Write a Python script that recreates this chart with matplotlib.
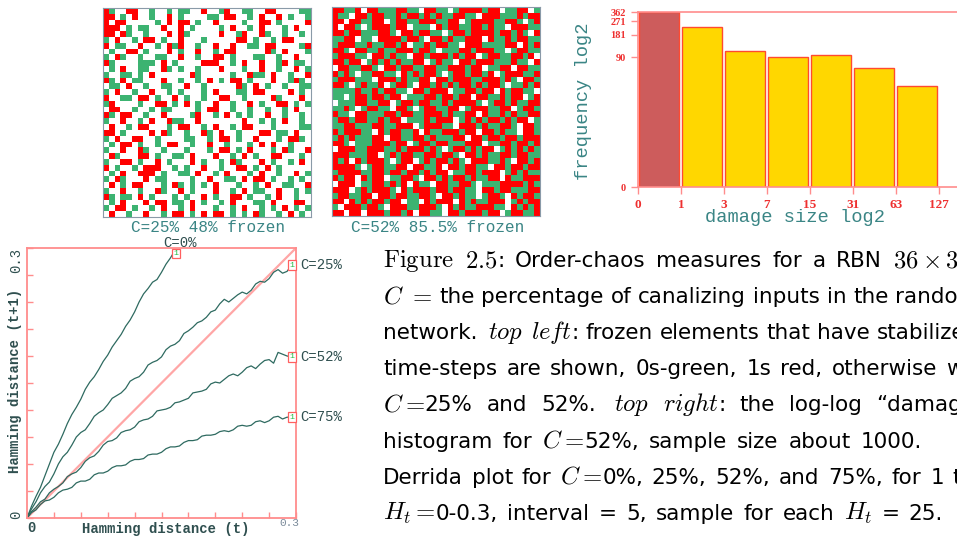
import re
import numpy as np
import matplotlib
matplotlib.use("Agg")
import matplotlib.pyplot as plt
from matplotlib.colors import ListedColormap
from matplotlib.ticker import NullLocator

W, H = 957, 538

# frozen-element maps, 36x36: g = frozen 0 (green), r = frozen 1 (red), . = not frozen
grid_c25 = [
    "rg..rr..g..g.gg..r..gr..gg..rr....gg",
    "rr.g.r..g..r.g....gg.rr..g.r..r.g..g",
    "r.rr.....g.r.rr.g..r....g..rr.g....r",
    "rrr.g.gg..r..r.g....g.r..g.r...g.r..",
    "rr.rg..g...r.rg.....r..gr..rg..g..g.",
    "g.r..g.rr.g..r...g.....rr.g..g.rr...",
    "r.gg..r..g.rgr..g..r..r..gg.rr....gr",
    ".g..rr.g...r.g..r..g.rr.....rg.r...g",
    "g.rg..g..gg..r..g..rr.g...gg..g..r..",
    "rg....ggg.r.g....rrr..g.r..r..gr.gg.",
    ".g.r..gg..rg.g..g...r...g..r..g..r.g",
    "g..gg.g.r......rg.....g..rgg.r..g..r",
    "rg.r.gg...r..g..g.r.g.rr.g...r..grg.",
    ".gg.r..g..gg..r..g.....rg.r.g..g..gg",
    "g.r..g..r..g.g...g.r...gg.rr....r.g.",
    "r..gg.rr.g..r.g..g..rr..g....rg...r.",
    "gr....g..rr.g.r.g..r..g..r.g..rr.g.g",
    ".rr..g..g.gg....g.rr..g..g..g..g.r..",
    "rg.rr..g..r....gr..g.r.g.g..r..g..g.",
    "g..r..g.r..rgg..r.......r..g.g.r..g.",
    ".r..g.rr...g.rr..g.r..g.rr...g....gg",
    "rr.g....r.rg..g..rg.r..g...rr.gg.r..",
    "g.r..rr..g....gg..g.rr.g..r...g.rrg.",
    ".g.rr.g..g.rr..g..r..g...g.r.r..g...",
    "g..r..rg..g...g...g.rr.g.r...g.rg..r",
    ".rg...rr.g..gg.r...r..g.r.g..rr...g.",
    "g..rr.g..r.g...r.g..g.rg...r.g..g.r.",
    "r.g..g.rrr..g.g..r..g..rr.g.r.g.....",
    ".g.r..rrr.g..gg.r..g.r...g.r..g..r.g",
    "g.rg...r.gg....g..r..gg.r.rr.g..g.g.",
    ".r.g.rr...g.rg.g.g.r...g..g.r..gg..r",
    "g..r..g..rg..r.g...r..g.r.gg..r..g.g",
    "rg.gg.r.g...g.g..r.g..rr.g..g.r..g..",
    ".g.r...r.rr.gg.r.g..g.r...gg.r...rr.",
    "g.rr.g..g.r..g.r...g..g.r..g.g.r.g.g",
    ".r..g..r..g.rr.g.r.rr.g.g.rg..g.r.g.",
]

grid_c52 = [
    "rrggr.rrgggrrgg.rrgg.grrrrgrr.ggrr.g",
    "rgg.rrgrrggrgrrgrgrggrrgg.rrrgggrgrr",
    "rr.rrggrr.grrggrrrggrr.grrrrggrrg.gr",
    "r.rrg.grrrgrr.ggg.rgrrggrrgrgg.rrrgg",
    "rrgrrgggrrg.rrgrrgg.grrgrrrrgrrgrg.r",
    "ggrr.gg.rrrrgrrg.rrgrggrrr.rggrgrrgg",
    "grrrggrggrrgr.ggrgrrgg.rrrggggrr.rgr",
    "rrg.rrggrggrrrgrrg.gggrrgrrrgg.grrgg",
    "grrrgg.rrgrgg.rrgrrrgrgrr.grrggrrgr.",
    "rrgrr.grgrgrggrr.grgg.rrgrrrgggrgg.r",
    ".rrggrrg.rrgrrggrrggrrrgrr.ggrr.rrgg",
    "rgrg.ggrrgg.rgrgrrg.grrgrrgr.grrrggr",
    "grrrggg.rrrgrggrr.rrgrrrggrrrgrg.rrg",
    "rrg.grggr.grrg.rrgrgrgrrgrgrrg.ggrgr",
    "ggggrggrgrrgg.rrgrrr.ggrrgrr.rgrrgg.",
    "gg.grrgrrgrr.gggrrgrrgrr.rrggrgrr.gr",
    ".gggrrggrr.grrgrrggrgrrrrg.grrgrggrr",
    "ggrg.grrgg.rrg.grrggrr.grrrggrr.grrg",
    "rgg.rrgggrrgrrggrrrgrggrr.rggrgrggrr",
    "grrgrrggrgrr.gggrgrrr.grgrgrrgrgrr.g",
    "ggrrgggrrggrrr.grrrgg.rrrgrggrrg.rrg",
    "rgrrrgg.rgrrggr.rggrrrgrr.rrgrgg.rrg",
    "grgrgggrr.rrggrrgrgggrr.rrgrrgrrgrrr",
    "rrg.gggrrrgrr.grrgrrgggrrr.ggrrgrrgr",
    ".rrrggrrrggrgrrrgrg.grrgrgrr.grgrgrg",
    "rrrgggrr.grgrrggrrgrrg.rrgrggrrgrrgg",
    "rgr.rgrrrg.grr.grgrrgrg.rrrggrg.rrgr",
    "rrrrg.grrggrr.rrggr.rrgrrgg.rrgrrgrr",
    "grrrrggrrgrrgrrgrgrr.ggrrgrrr.grgrgg",
    "rgrr.rgrr.ggrrg.rrgrgrrgrggrr.rggrrr",
    ".rrr.ggrrgrgr.rgg.rrggrrg.gggrrrrgrg",
    "rrr.grgrrrg.rgrrrgrrgrrgg.rrgrrgggrr",
    "grrggrr.rrgrrggrrg.rrgrgg.grrg.rgrrg",
    "rr.rgrgrrgrr.gg.rgrrr.rgrggrrr.grgrr",
    "g.rrrgrrg.rrrggrrrg.rgrggrrrgg.rgrgr",
    "rr.rr.rrrgrrgr.rrgg.rrgrrrgrr.grrggr",
]

# damage size histogram (log2 bins), C=52%
bin_labels = ["0", "1", "3", "7", "15", "31", "63", "127"]
bin_freq = [362, 228, 108, 90, 96, 64, 37]
freq_ticks = [90, 181, 271, 362]

# Derrida plot: H(t) -> H(t+1)
ht_c0 = [0, .005, .01, .015, .02, .025, .03, .035, .04, .045, .05, .055, .06, .065, .07, .075, .08,
         .085, .09, .095, .10, .105, .11, .115, .12, .125, .13, .135, .14, .145, .15, .155, .16, .163]
h1_c0 = [0, .013, .024, .034, .047, .060, .073, .082, .093, .105, .115, .123, .132, .143, .151, .157, .165,
         .174, .181, .190, .197, .204, .213, .220, .229, .240, .249, .255, .262, .265, .273, .282, .289, .294]

ht = [0, .005, .01, .015, .02, .025, .03, .035, .04, .045, .05, .055, .06, .065, .07, .075,
      .08, .085, .09, .095, .10, .105, .11, .115, .12, .125, .13, .135, .14, .145, .15, .155,
      .16, .165, .17, .175, .18, .185, .19, .195, .20, .205, .21, .215, .22, .225, .23, .235,
      .24, .245, .25, .255, .26, .265, .27, .275, .28, .285, .29, .295]
h1_c25 = [0, .010, .018, .028, .035, .040, .049, .060, .068, .073, .081, .090, .095, .098, .105, .113,
          .117, .120, .126, .133, .136, .139, .144, .152, .155, .157, .162, .170, .173, .175, .179, .187,
          .191, .193, .197, .205, .208, .212, .217, .219, .223, .229, .231, .238, .243, .240, .244, .248,
          .251, .249, .253, .260, .263, .262, .266, .273, .276, .272, .274, .281]
h1_c52 = [0, .007, .012, .018, .021, .028, .032, .035, .039, .046, .049, .051, .056, .063, .067, .069,
          .074, .081, .085, .086, .089, .095, .097, .098, .101, .107, .109, .110, .113, .119, .120, .121,
          .123, .128, .129, .131, .133, .139, .140, .141, .143, .149, .151, .150, .154, .158, .160, .158,
          .162, .167, .169, .166, .171, .175, .176, .172, .184, .182, .180, .179]
h1_c75 = [0, .006, .009, .015, .019, .020, .023, .028, .031, .032, .034, .039, .041, .041, .043, .048,
          .050, .050, .052, .056, .058, .058, .059, .063, .065, .065, .066, .070, .071, .071, .073, .077,
          .079, .079, .080, .084, .086, .086, .087, .091, .092, .092, .093, .096, .097, .096, .098, .102,
          .103, .102, .103, .107, .108, .106, .108, .112, .113, .110, .112, .112]

# caption lines: words, and (word index, pixel x of its right end) where the line is stretched
caption = [
    (["$\\mathrm{Figure}$", "$\\mathrm{2.5}$:", "Order-chaos", "measures", "for", "a", "RBN",
      "$36\\times36$"], (6, 882)),
    (["$C\\ =$", "the", "percentage", "of", "canalizing", "inputs", "in", "the", "random"], None),
    (["network.", "$\\mathit{top}$", "$\\mathit{left}$:", "frozen", "elements", "that", "have",
      "stabilized"], None),
    (["time-steps", "are", "shown,", "0s-green,", "1s", "red,", "otherwise", "white,"], (6, 937)),
    (["$C{=}$25%", "and", "52%.", "$\\mathit{top}$", "$\\mathit{right}$:", "the", "log-log",
      "\u201cdamage"], (6, 862)),
    (["histogram", "for", "$C{=}$52%,", "sample", "size", "about", "1000."], (6, 922)),
    (["Derrida", "plot", "for", "$C{=}$0%,", "25%,", "52%,", "and", "75%,", "for", "1",
      "time-step,"], (9, 944)),
    (["$H_t{=}$0-0.3,", "interval", "=", "5,", "sample", "for", "each", "$H_t$", "=", "25."], (9, 943)),
]

plt.rcParams["mathtext.fontset"] = "cm"

fig = plt.figure(figsize=(W / 100, H / 100), dpi=100)


def px_axes(x0, y0, x1, y1):
    return fig.add_axes([x0 / W, 1 - y1 / H, (x1 - x0) / W, (y1 - y0) / H])


def px_text(x, y, s, **kw):
    return fig.text(x / W, 1 - y / H, s, **kw)


mono = "Liberation Mono"
teal = "#3a8585"
dark = "#2f4f4f"
pink = "#ff8c8c"

# ---- frozen maps
cell_cmap = ListedColormap(["white", "#3cb371", "#ff0000"])
code = {".": 0, "g": 1, "r": 2}
for rows, box, label, lx in [
    (grid_c25, (103, 8, 311, 217), "C=25% 48% frozen", 208),
    (grid_c52, (332, 7, 540, 216), "C=52% 85.5% frozen", 438),
]:
    arr = np.array([[code.get(c, 0) for c in r.ljust(36, ".")[:36]] for r in rows])
    ax = px_axes(*box)
    ax.imshow(arr, cmap=cell_cmap, vmin=0, vmax=2, interpolation="nearest", aspect="auto")
    ax.set_xticks([])
    ax.set_yticks([])
    for s in ax.spines.values():
        s.set_color("#8a9aa8")
        s.set_linewidth(0.8)
    px_text(lx, 227, label, family=mono, fontsize=11.5, color=teal, ha="center", va="center")

# ---- damage histogram
axh = px_axes(638, 12, 1003, 187)
axh.set_yscale("log", base=2)
cols = ["#cd5c5c"] + ["#ffd700"] * (len(bin_freq) - 1)
axh.bar(np.arange(len(bin_freq)) + 0.02, bin_freq, width=0.94, align="edge",
        color=cols, edgecolor="#ff4a30", linewidth=1.0)
axh.set_xlim(0, 8.5)
axh.set_ylim(1.66, 362)
axh.set_xticks(np.arange(len(bin_labels)))
axh.set_xticklabels(bin_labels)
axh.set_yticks([1.66] + freq_ticks)
axh.set_yticklabels(["0"] + [str(v) for v in freq_ticks])
axh.yaxis.set_minor_locator(NullLocator())
axh.tick_params(axis="both", colors=pink, length=5, width=1)
for lab in axh.get_xticklabels():
    lab.set_color("#ee3030")
    lab.set_fontfamily("Liberation Serif")
    lab.set_fontweight("bold")
    lab.set_fontsize(9.5)
for lab in axh.get_yticklabels():
    lab.set_color("#ee3030")
    lab.set_fontfamily("Liberation Serif")
    lab.set_fontweight("bold")
    lab.set_fontsize(7.5)
axh.spines["right"].set_visible(False)
for s in ["top", "left", "bottom"]:
    axh.spines[s].set_color(pink)
    axh.spines[s].set_linewidth(1.2)
px_text(583, 101, "frequency log2", family=mono, fontsize=13.5, color=teal,
        rotation=90, ha="center", va="center")
px_text(795, 218, "damage size log2", family=mono, fontsize=13.5, color=teal,
        ha="center", va="center")

# ---- Derrida plot
axd = px_axes(27, 248, 296, 518)
axd.plot([0, 0.3], [0, 0.3], color="#ffa6a6", lw=1.6, zorder=1)
line_col = "#2e6a60"
axd.plot(ht_c0, h1_c0, color=line_col, lw=0.9)
axd.plot(ht, h1_c25, color=line_col, lw=0.9)
axd.plot(ht, h1_c52, color=line_col, lw=0.9)
axd.plot(ht, h1_c75, color=line_col, lw=0.9)
axd.set_xlim(0, 0.3)
axd.set_ylim(0, 0.3)
ticks = np.linspace(0, 0.3, 11)
axd.set_xticks(ticks)
axd.set_yticks(ticks)
axd.set_xticklabels([])
axd.set_yticklabels([])
axd.tick_params(direction="in", length=4, color=pink, width=1)
for s in axd.spines.values():
    s.set_color(pink)
    s.set_linewidth(1.3)
box_style = dict(boxstyle="square,pad=0.15", fc="white", ec="#ff6060", lw=0.9)
for x, y in [(ht_c0[-1] + 0.003, h1_c0[-1]), (0.2955, h1_c25[-1]),
             (0.2955, h1_c52[-1]), (0.2955, h1_c75[-1])]:
    axd.text(x, y, "1", fontsize=6, family=mono, color="#22bb44", ha="center",
             va="center", bbox=box_style, clip_on=False, zorder=5)
for lab, y in [("C=25%", 265), ("C=52%", 357), ("C=75%", 417)]:
    px_text(300, y, lab, family=mono, fontsize=10, color=dark, ha="left", va="center")
px_text(180, 243, "C=0%", family=mono, fontsize=10, color=dark, ha="center", va="center")
px_text(16, 260, "0.3", family=mono, fontsize=10, color=dark, rotation=90, ha="center", va="center")
px_text(16, 515, "0", family=mono, fontsize=10, color=dark, rotation=90, ha="center", va="center")
px_text(31, 528, "0", family=mono, fontsize=10, color=dark, fontweight="bold", ha="center", va="center")
px_text(289, 523, "0.3", family=mono, fontsize=8, color="#7a8a9a", ha="center", va="center")
px_text(15, 381, "Hamming distance (t+1)", family=mono, fontsize=10, fontweight="bold",
        color=dark, rotation=90, ha="center", va="center")
px_text(166, 529, "Hamming distance (t)", family=mono, fontsize=10, fontweight="bold",
        color=dark, ha="center", va="center")

# ---- caption: sans text with larger CM math pieces, placed word by word
renderer = fig.canvas.get_renderer()
x_left = 383
size = 15.5


def make_word(word, y):
    pieces = [p for p in re.split(r"(\$[^$]*\$)", word) if p]
    objs = []
    for p in pieces:
        fs = size * 1.15 if p.startswith("$") else size
        o = px_text(0, y, p, family="DejaVu Sans", fontsize=fs, color="black",
                    ha="left", va="baseline")
        objs.append((o, o.get_window_extent(renderer).width))
    return objs


probe_a = px_text(0, -50, "a a", family="DejaVu Sans", fontsize=size)
probe_b = px_text(0, -50, "aa", family="DejaVu Sans", fontsize=size)
space = probe_a.get_window_extent(renderer).width - probe_b.get_window_extent(renderer).width
probe_a.remove()
probe_b.remove()

for i, (words, pin) in enumerate(caption):
    y = 267 + i * 36.1
    built = [make_word(w, y) for w in words]
    widths = [sum(w for _, w in b) for b in built]
    extra = [space * 0.6 if w.endswith(".") else 0 for w in words]
    if pin is None:
        gap = space
    else:
        k, px = pin
        gap = (px - x_left - sum(widths[:k + 1]) - sum(extra[:k])) / k
    x = x_left
    for b, w, e in zip(built, widths, extra):
        xx = x
        for o, pw in b:
            o.set_x(xx / W)
            xx += pw
        x += w + gap + e

fig.savefig("out.png", dpi=100)
